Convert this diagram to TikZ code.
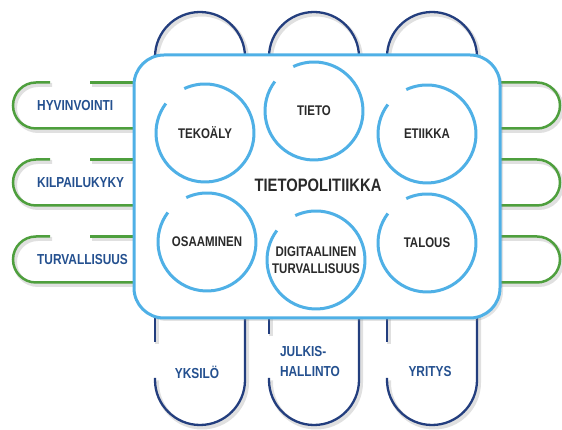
\documentclass[tikz,border=0pt]{standalone}
\usepackage{fontspec}
\setmainfont{Liberation Sans}[FakeStretch=0.82]
\usetikzlibrary{shadows}

\definecolor{skyblue}{HTML}{4FB0E6}
\definecolor{navyline}{HTML}{233E7E}
\definecolor{navytext}{HTML}{24508F}
\definecolor{leafgreen}{HTML}{4E9F3D}
\definecolor{darktext}{HTML}{2A2A2A}

\tikzset{
  ringlabel/.style={font=\fontsize{14}{17}\selectfont\bfseries, text=darktext, align=center, inner sep=0pt},
  sidelabel/.style={font=\fontsize{14.5}{20}\selectfont\bfseries, text=navytext, inner sep=0pt},
  ring/.style={draw=skyblue, line width=3pt},
  board/.style={draw=skyblue, fill=white, line width=3pt, rounded corners=30pt,
    drop shadow={opacity=0.22, shadow xshift=3pt, shadow yshift=-3pt}},
  softshade/.style={preaction={draw=black, draw opacity=0.12, line width=4pt,
    transform canvas={shift={(2pt,-2.5pt)}}}},
  greenloop/.style={draw=leafgreen, line width=2.5pt, softshade},
  navyarch/.style={draw=navyline, line width=2.3pt, softshade}
}

\begin{document}
\begin{tikzpicture}[x=1pt,y=1pt]
    \def \r {49}
    \def \half {45}
    \def \gapa {115} % gap in the rings, in angles
    \def \gapb {143}
    \useasboundingbox (0,0) rectangle (562,430);

    % green loops, left and right
    \foreach \yc/\txt [count=\i] in {324.5/HYVINVOINTI, 247.5/KILPAILUKYKY, 170.5/TURVALLISUUS}
    {
      \node[sidelabel, anchor=west] (side\i) at (37,\yc) {\txt};
      \draw[greenloop] (50,\yc+23) -- (36,\yc+23) arc (90:270:23) -- (150,\yc-23);
      \draw[greenloop] (90,\yc+23) -- (150,\yc+23);
      \draw[greenloop] (490,\yc+23) -- (537,\yc+23) arc (90:-90:23) -- (490,\yc-23);
    }

    % navy arches, top and bottom
    \foreach \xc/\gy in {200/88, 314/96, 432/88}
    {
      \draw[navyarch] (\xc-\half,330) -- (\xc-\half,373) arc (180:0:\half) -- (\xc+\half,330);
      \draw[navyarch] (\xc-\half,130) -- (\xc-\half,\gy);
      \draw[navyarch] (\xc-\half,52) -- (\xc-\half,50) arc (180:360:\half) -- (\xc+\half,130);
    }
    \node[sidelabel] (yksilo) at (197,58) {YKSILÖ};
    \node[sidelabel, align=left] (julkis) at (310,68) {JULKIS-\\HALLINTO};
    \node[sidelabel] (yritys) at (430,58) {YRITYS};

    \draw[board] (134,112) rectangle (500,375);

    \foreach \name/\xc/\yc/\txt in {tekoaly/205/297/{TEKOÄLY}, tieto/314/319/{TIETO},
      etiikka/427/296/{ETIIKKA}, osaaminen/207/188/{OSAAMINEN},
      digi/316/170/{DIGITAALINEN\\TURVALLISUUS}, talous/427/187/{TALOUS}}
    {
      \node[ringlabel] (\name) at (\xc,\yc) {\txt};
      \draw[ring] (\name.center) ++(\gapb:\r) arc[start angle=\gapb, end angle=\gapa+360, radius=\r];
    }
    \node[ringlabel, font=\fontsize{18}{20}\selectfont\bfseries] (policy) at (318,245) {TIETOPOLITIIKKA};
\end{tikzpicture}
\end{document}
